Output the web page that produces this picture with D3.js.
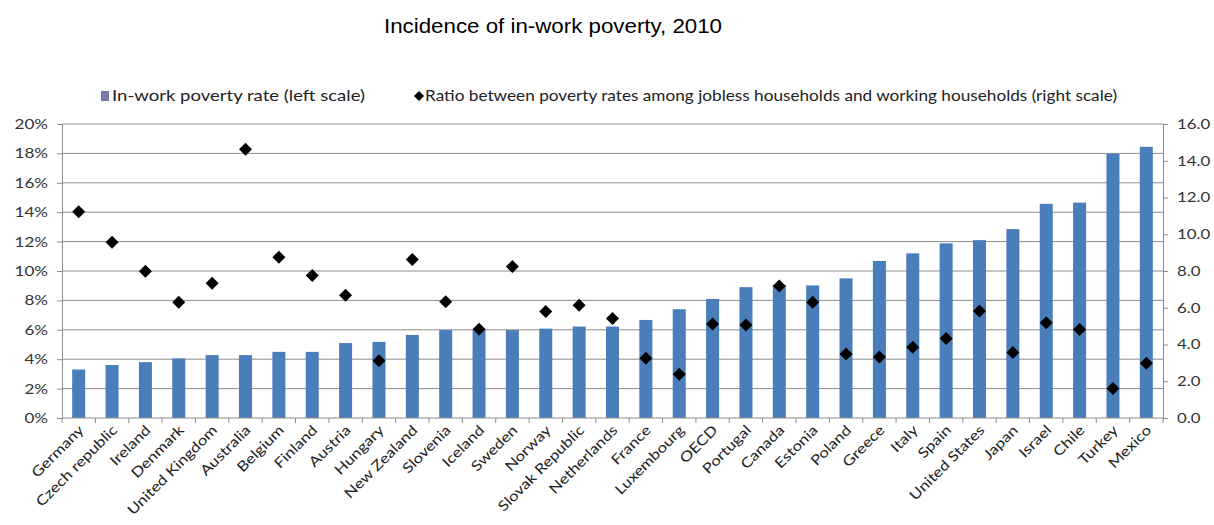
<!DOCTYPE html>
<html><head><meta charset="utf-8">
<script src="https://cdn.jsdelivr.net/npm/d3@7"></script>
<style>body{margin:0;background:#fff;} svg{display:block;}</style>
</head><body><svg id="c" width="1214" height="525"></svg>
<script>
const categories = ["Germany","Czech republic","Ireland","Denmark","United Kingdom","Australia","Belgium","Finland","Austria","Hungary","New Zealand","Slovenia","Iceland","Sweden","Norway","Slovak Republic","Netherlands","France","Luxembourg","OECD","Portugal","Canada","Estonia","Poland","Greece","Italy","Spain","United States","Japan","Israel","Chile","Turkey","Mexico"];
const povertyRate = [3.3,3.6,3.8,4.05,4.28,4.28,4.5,4.5,5.1,5.18,5.65,5.98,5.98,5.98,6.08,6.22,6.22,6.67,7.4,8.1,8.9,9.05,9.02,9.5,10.68,11.2,11.88,12.1,12.85,14.57,14.65,17.98,18.45];
const ratio = [11.23,9.56,7.98,6.30,7.33,14.62,8.75,7.75,6.68,3.12,8.63,6.33,4.83,8.24,5.79,6.13,5.42,3.25,2.38,5.12,5.06,7.18,6.30,3.48,3.32,3.85,4.32,5.82,3.56,5.19,4.81,1.60,2.98];
const leftTicks = [0,2,4,6,8,10,12,14,16,18,20];
const rightTicks = [0,2,4,6,8,10,12,14,16];
const title = "Incidence of in-work poverty, 2010";
const legendBar = "In-work poverty rate (left scale)";
const legendDot = "Ratio between poverty rates among jobless households and working households (right scale)";

const svg = d3.select("#c");
const font = "Lato, 'Open Sans', sans-serif";
const L = 62, R = 1163, T = 124, B = 418;
const x = d3.scaleBand().domain(categories).range([L, R]).paddingInner(0.61).paddingOuter(0.305);
const yL = d3.scaleLinear().domain([0,20]).range([B, T]);
const yR = d3.scaleLinear().domain([0,16]).range([B, T]);

function stretch(sel, k){
  sel.each(function(){
    const w = this.getComputedTextLength();
    d3.select(this).attr("textLength", w*k).attr("lengthAdjust","spacingAndGlyphs");
  });
}

svg.append("text").attr("x", 553).attr("y", 33).attr("text-anchor","middle")
  .attr("font-family","Arial, 'Liberation Sans', sans-serif").attr("font-size",20).attr("fill","#000")
  .attr("textLength",338).attr("lengthAdjust","spacingAndGlyphs").text(title);

// gridlines
svg.append("g").selectAll("line").data(leftTicks.slice(1)).join("line")
  .attr("x1", L).attr("x2", R).attr("y1", d=>yL(d)).attr("y2", d=>yL(d))
  .attr("stroke","#8c8c8c").attr("stroke-width",1);

// left axis
const gl = svg.append("g").attr("transform",`translate(${L},0)`)
  .call(d3.axisLeft(yL).tickValues(leftTicks).tickFormat(d=>d+"%").tickSize(5).tickPadding(9));
gl.select(".domain").attr("stroke","#8c8c8c");
gl.selectAll(".tick line").attr("stroke","#8c8c8c");
gl.selectAll("text").attr("font-family",font).attr("font-size",14).attr("fill","#333").call(stretch,1.22);

// right axis
const gr = svg.append("g").attr("transform",`translate(${R},0)`)
  .call(d3.axisRight(yR).tickValues(rightTicks).tickFormat(d3.format(".1f")).tickSize(5).tickPadding(9));
gr.select(".domain").attr("stroke","#8c8c8c");
gr.selectAll(".tick line").attr("stroke","#8c8c8c");
gr.selectAll("text").attr("font-family",font).attr("font-size",14).attr("fill","#333").call(stretch,1.2);

// bars
svg.append("g").selectAll("rect").data(categories).join("rect")
  .attr("x", d=>x(d)).attr("width", x.bandwidth())
  .attr("y", (d,i)=>yL(povertyRate[i])).attr("height",(d,i)=>B-yL(povertyRate[i]))
  .attr("fill","#4a7ebb");

// x axis line and ticks
svg.append("line").attr("x1",L).attr("x2",R).attr("y1",B).attr("y2",B).attr("stroke","#8c8c8c");
const step = x.step();
svg.append("g").selectAll("line").data(d3.range(categories.length+1)).join("line")
  .attr("x1", i=>L + i*step).attr("x2", i=>L + i*step).attr("y1",B).attr("y2",B+5).attr("stroke","#8c8c8c");

// diamonds
const s = 6.5;
svg.append("g").selectAll("path").data(categories).join("path")
  .attr("d",(d,i)=>{const cx=x(d)+x.bandwidth()/2, cy=yR(ratio[i]); return `M${cx},${cy-s}L${cx+s},${cy}L${cx},${cy+s}L${cx-s},${cy}Z`;})
  .attr("fill","#000");

// x labels
svg.append("g").selectAll("text").data(categories).join("text")
  .attr("transform", d=>`translate(${x(d)+x.bandwidth()/2+6},${B+13}) rotate(-45)`)
  .attr("text-anchor","end").attr("font-family",font).attr("font-size",14).attr("fill","#222")
  .text(d=>d).call(stretch,1.2);

// legend
svg.append("rect").attr("x",101).attr("y",91).attr("width",8).attr("height",10).attr("fill","#7277a6");
svg.append("text").attr("x",112).attr("y",101).attr("font-family",font).attr("font-size",15).attr("fill","#222")
  .attr("textLength",253).attr("lengthAdjust","spacingAndGlyphs").text(legendBar);
const lx=419, ly=96, ls=5;
svg.append("path").attr("d",`M${lx},${ly-ls}L${lx+ls},${ly}L${lx},${ly+ls}L${lx-ls},${ly}Z`).attr("fill","#000");
svg.append("text").attr("x",425).attr("y",101).attr("font-family",font).attr("font-size",15).attr("fill","#222")
  .attr("textLength",692).attr("lengthAdjust","spacingAndGlyphs").text(legendDot);
</script></body></html>
